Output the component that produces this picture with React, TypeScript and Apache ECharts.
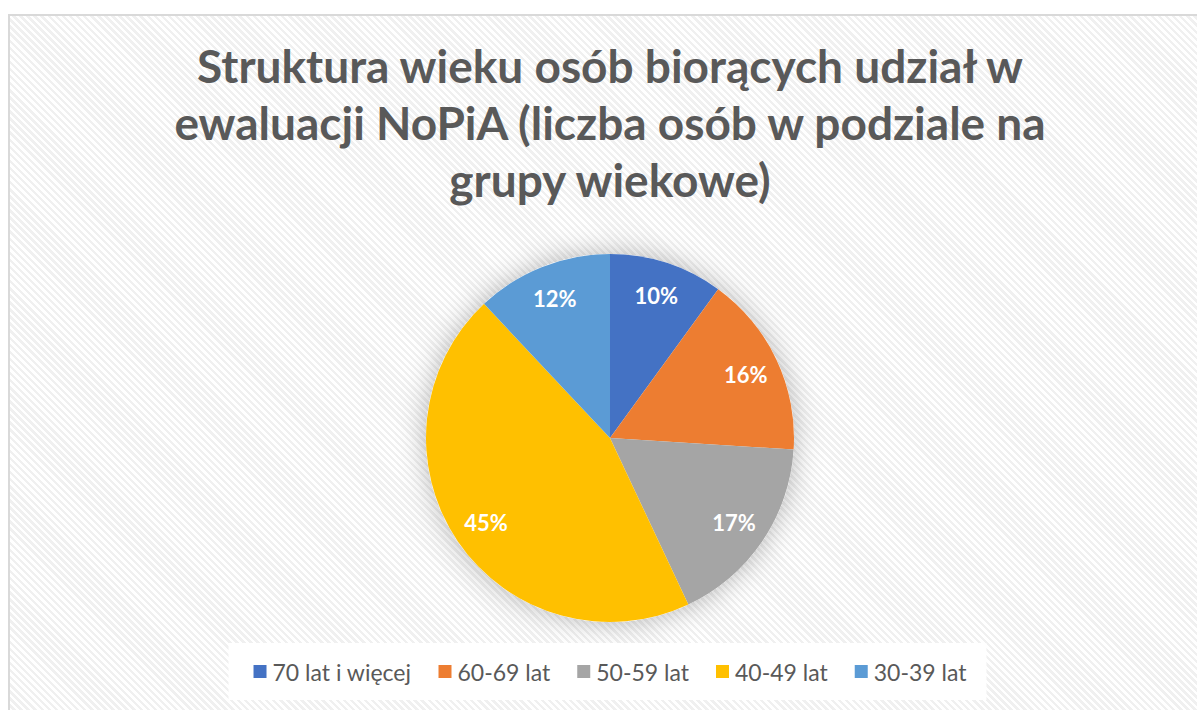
import React, { useEffect, useRef } from "react";
import * as echarts from "echarts";

const titleText = "Struktura wieku osób biorących udział w\newaluacji NoPiA (liczba osób w podziale na\ngrupy wiekowe)";
const categories = ["70 lat i więcej", "60-69 lat", "50-59 lat", "40-49 lat", "30-39 lat"];
const values = [10, 16, 17, 45, 12];
const colors = ["#4472C4", "#ED7D31", "#A5A5A5", "#FFC000", "#5B9BD5"];

export default function App() {
  const ref = useRef<HTMLDivElement>(null);
  useEffect(() => {
    document.body.style.margin = "0";
    document.body.style.overflow = "hidden";
    const chart = echarts.init(ref.current!, null, { renderer: "svg" });
    const data = categories.map((name, i) => ({
      name,
      value: values[i],
      itemStyle: { color: colors[i] },
    }));
    chart.setOption({
      animation: false,
      backgroundColor: "transparent",
      title: {
        text: titleText,
        left: "center",
        top: 32,
        textStyle: {
          fontFamily: "Lato",
          fontWeight: "bold",
          fontSize: 46,
          lineHeight: 57,
          color: "#595959",
        },
      },
      legend: {
        data: categories,
        bottom: 10,
        left: "center",
        icon: "rect",
        itemWidth: 13,
        itemHeight: 13,
        itemGap: 27,
        backgroundColor: "#ffffff",
        padding: [17, 20, 17, 25],
        textStyle: { fontFamily: "Lato", fontSize: 23, color: "#595959", padding: [0, 0, 0, 1] },
      },
      series: [
        {
          type: "pie",
          silent: true,
          center: [610, 438],
          radius: [0, 184],
          startAngle: 90,
          z: 1,
          label: { show: false },
          labelLine: { show: false },
          itemStyle: { color: "#ffffff", shadowBlur: 28, shadowColor: "rgba(0,0,0,0.28)" },
          data: [{ name: "_shadow", value: 1 }],
        },
        {
          type: "pie",
          center: [610, 438],
          radius: [0, 184],
          startAngle: 90,
          clockwise: true,
          z: 2,
          label: { show: false },
          labelLine: { show: false },
          emphasis: { disabled: true },
          data,
        },
        {
          type: "pie",
          silent: true,
          center: [610, 438],
          radius: [110, 184],
          startAngle: 90,
          clockwise: true,
          z: 3,
          itemStyle: { color: "transparent" },
          emphasis: { disabled: true },
          labelLine: { show: false },
          label: {
            show: true,
            position: "inside",
            formatter: (p: any) => Math.round(p.percent) + "%",
            color: "#ffffff",
            fontFamily: "Lato",
            fontWeight: "bold",
            fontSize: 22,
          },
          data: categories.map((name, i) => ({ name: name + " ", value: values[i] })),
        },
      ],
    });
    return () => chart.dispose();
  }, []);
  return (
    <div style={{ position: "relative", width: 1197, height: 710, overflow: "hidden", background: "#ffffff" }}>
      <div
        style={{
          position: "absolute",
          left: 8,
          top: 14,
          width: 1220,
          height: 720,
          boxSizing: "border-box",
          border: "2px solid #d9d9d9",
          background:
            "repeating-linear-gradient(45deg, #ffffff 0px, #ffffff 2.5px, #f0f0f0 2.5px, #f0f0f0 5px)",
        }}
      />
      <div ref={ref} style={{ position: "absolute", left: 0, top: 0, width: 1220, height: 710 }} />
    </div>
  );
}
